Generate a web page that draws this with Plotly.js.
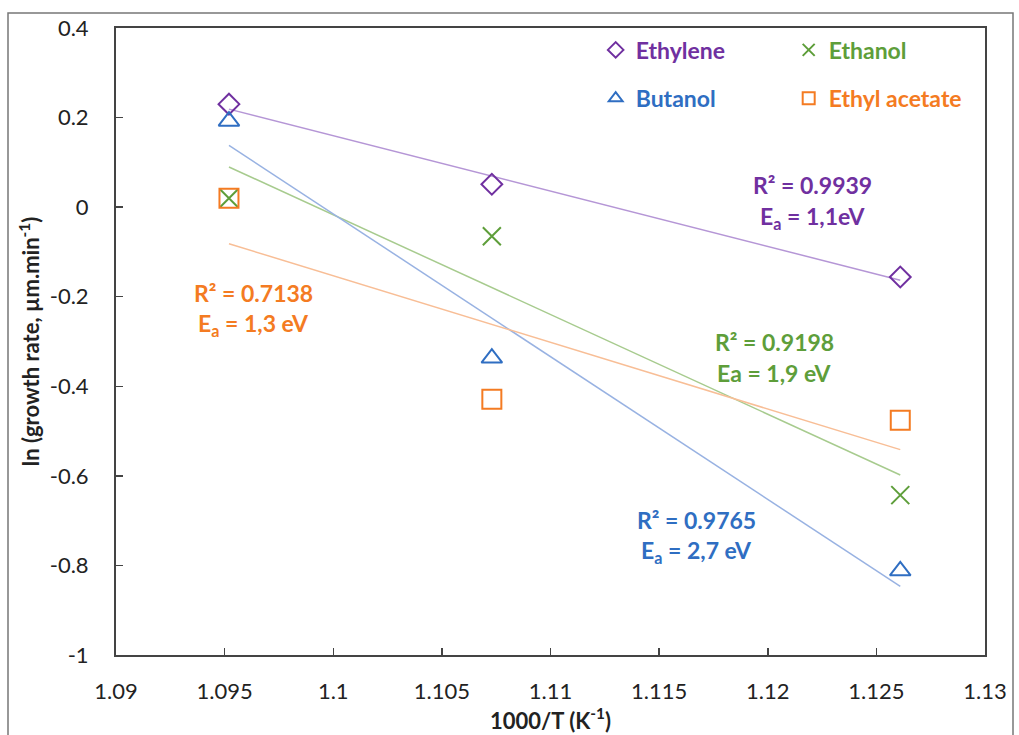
<!DOCTYPE html>
<html>
<head>
<meta charset="utf-8">
<script src="https://cdn.plot.ly/plotly-3.0.1.min.js"></script>
<style>html,body{margin:0;padding:0;background:#fff}#chart{width:1019px;height:735px}</style>
</head>
<body>
<div id="chart"></div>
<script>
// Data
var invT = [1.0952, 1.1073, 1.1261];
var ethylene = [0.230, 0.051, -0.156];
var ethanol = [0.020, -0.065, -0.643];
var butanol = [0.192, -0.337, -0.812];
var ethylAcetate = [0.020, -0.429, -0.476];

var seriesNames = ['Ethylene', 'Ethanol', 'Butanol', 'Ethyl acetate'];
var rLabels = ['R² = 0.9939', 'R² = 0.9198', 'R² = 0.9765', 'R² = 0.7138'];
var eaLabels = ['E<sub>a</sub> = 1,1eV', 'Ea = 1,9 eV', 'E<sub>a</sub> = 2,7 eV', 'E<sub>a</sub> = 1,3 eV'];
var xTicks = [1.09, 1.095, 1.1, 1.105, 1.11, 1.115, 1.12, 1.125, 1.13];
var yTicks = [0.4, 0.2, 0, -0.2, -0.4, -0.6, -0.8, -1];

var FONT = 'Lato, "Open Sans", sans-serif';
var markColors = ['#7030A0', '#5E9E3A', '#2F6EC2', '#F47B22'];
var lineColors = ['#B596D6', '#A7CB8E', '#98B2E2', '#F8BE96'];
var symbols = ['diamond-open', 'x-thin-open', 'triangle-up-open', 'square-open'];
var sizes = [16, 18, 18, 19];
var ys = [ethylene, ethanol, butanol, ethylAcetate];
var legendIds = ['legend', 'legend', 'legend2', 'legend2'];

function linfit(x, y) {
  var n = x.length, mx = 0, my = 0;
  for (var i = 0; i < n; i++) { mx += x[i]; my += y[i]; }
  mx /= n; my /= n;
  var sxx = 0, sxy = 0;
  for (var i = 0; i < n; i++) { sxx += (x[i]-mx)*(x[i]-mx); sxy += (x[i]-mx)*(y[i]-my); }
  var b = sxy / sxx, a = my - b * mx;
  return [a + b * x[0], a + b * x[n-1]];
}

var traces = [];
for (var k = 0; k < 4; k++) {
  traces.push({
    x: [invT[0], invT[invT.length-1]], y: linfit(invT, ys[k]),
    mode: 'lines', line: {color: lineColors[k], width: 1.5},
    showlegend: false, hoverinfo: 'skip'
  });
}
for (var k = 0; k < 4; k++) {
  traces.push({
    x: invT, y: ys[k], mode: 'markers',
    name: '<span style="color:' + markColors[k] + '"><b>' + seriesNames[k] + '</b></span>',
    legend: legendIds[k],
    marker: {symbol: symbols[k], size: sizes[k], color: markColors[k], line: {color: markColors[k], width: 2}}
  });
}

// label centres (data coords): [x, yR2, yEa]
var annPos = [
  {x: 1.12208, yr: 0.049, ye: -0.022, k: 0},
  {x: 1.12029, yr: -0.301, ye: -0.371, k: 1},
  {x: 1.1167, yr: -0.699, ye: -0.770, k: 2},
  {x: 1.09635, yr: -0.192, ye: -0.263, k: 3}
];
var annotations = [];
annPos.forEach(function (p) {
  annotations.push({x: p.x, y: p.yr, xref: 'x', yref: 'y', text: '<b>' + rLabels[p.k] + '</b>', showarrow: false,
    font: {family: FONT, size: 23, color: markColors[p.k]}, yanchor: 'middle'});
  annotations.push({x: p.x, y: p.ye, xref: 'x', yref: 'y', text: '<b>' + eaLabels[p.k] + '</b>', showarrow: false,
    font: {family: FONT, size: 23, color: markColors[p.k]}, yanchor: 'middle'});
});

var legendCommon = {
  orientation: 'h', xanchor: 'left', yanchor: 'middle', entrywidth: 148, entrywidthmode: 'pixels',
  itemsizing: 'constant', bgcolor: 'rgba(0,0,0,0)', font: {family: FONT, size: 23, color: '#333'},
  itemwidth: 30, tracegroupgap: 0
};

var layout = {
  width: 1019, height: 735,
  margin: {l: 116, r: 34, t: 28, b: 80, autoexpand: false},
  paper_bgcolor: '#fff', plot_bgcolor: '#fff',
  showlegend: true,
  legend: Object.assign({}, legendCommon, {x: 0.552, y: 0.965}),
  legend2: Object.assign({}, legendCommon, {x: 0.552, y: 0.888}),
  xaxis: {
    range: [1.09, 1.13], tickvals: xTicks, ticktext: xTicks.map(String),
    ticks: 'inside', ticklen: 7, tickcolor: '#444', tickwidth: 1.5,
    showline: true, linecolor: '#444', linewidth: 2, mirror: true,
    showgrid: false, zeroline: false,
    ticklabelstandoff: 16,
    tickfont: {family: FONT, size: 22, color: '#222'},
    title: {text: '<b>1000/T (K<sup>-1</sup>)</b>', font: {family: FONT, size: 22, color: '#222'}, standoff: 6}
  },
  yaxis: {
    range: [-1, 0.4], tickvals: yTicks, ticktext: yTicks.map(String),
    ticks: 'inside', ticklen: 7, tickcolor: '#444', tickwidth: 1.5,
    showline: true, linecolor: '#444', linewidth: 2, mirror: true,
    showgrid: false, zeroline: false,
    ticklabelstandoff: 21,
    tickfont: {family: FONT, size: 22, color: '#222'},
    title: {text: '<b>ln (growth rate, µm.min<sup>-1</sup>)</b>', font: {family: FONT, size: 22, color: '#222'}, standoff: 4}
  },
  annotations: annotations,
  shapes: [{
    type: 'rect', xref: 'paper', yref: 'paper',
    x0: (8 - 116) / 869, x1: (1013 - 116) / 869,
    y0: (655 - 760) / 627, y1: (655 - 13) / 627,
    line: {color: '#777', width: 1.5}, fillcolor: 'rgba(0,0,0,0)', layer: 'below'
  }]
};

Plotly.newPlot('chart', traces, layout, {displayModeBar: false, staticPlot: true});
</script>
</body>
</html>
